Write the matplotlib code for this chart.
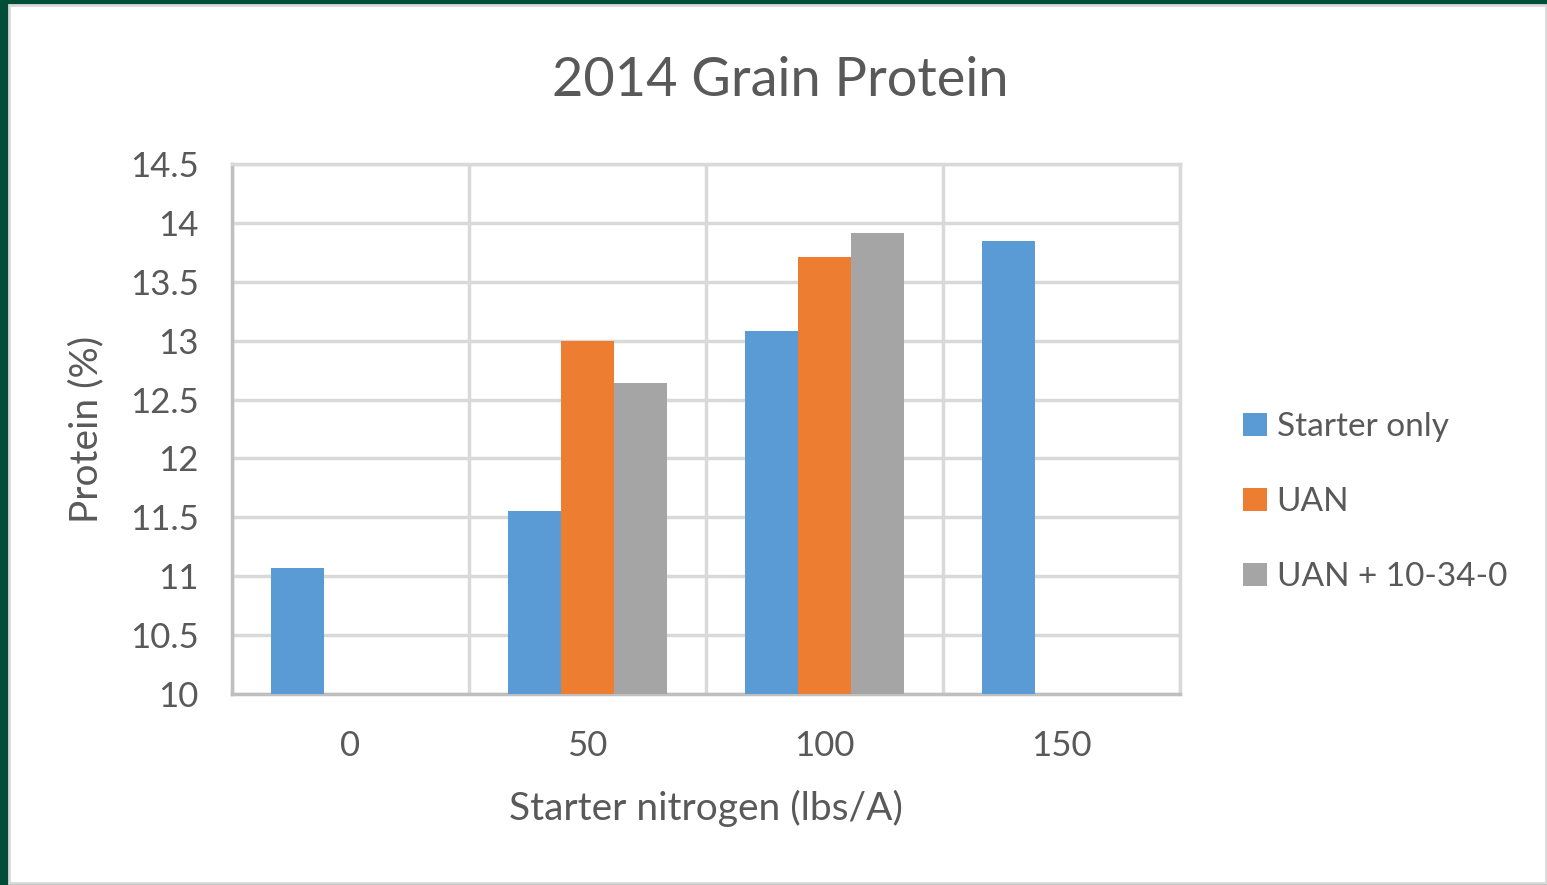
import numpy as np
import matplotlib
matplotlib.use("Agg")
import matplotlib.pyplot as plt
from matplotlib.patches import Rectangle

# data
categories = ["0", "50", "100", "150"]
series = ["Starter only", "UAN", "UAN + 10-34-0"]
starter_only = [11.07, 11.55, 13.08, 13.85]
uan = [np.nan, 13.0, 13.71, np.nan]
uan_1034 = [np.nan, 12.64, 13.91, np.nan]
colors = ["#5b9bd5", "#ed7d31", "#a5a5a5"]

plt.rcParams['font.family'] = ['Lato', 'DejaVu Sans']
text_col = "#595959"

fig = plt.figure(figsize=(15.47, 8.85), dpi=100)
fig.patch.set_facecolor("#024d38")
# white card inside the green frame
fig.patches.append(Rectangle((9 / 1547, 2 / 885), 1537 / 1547, 878 / 885,
                             transform=fig.transFigure, facecolor="white",
                             edgecolor="#d9d9d9", linewidth=2, zorder=-1))

ax = fig.add_axes([232 / 1547, 191 / 885, 948 / 1547, 530 / 885])
ax.set_facecolor("white")

x = np.arange(len(categories))
w = 0.224
for i, (vals, name) in enumerate(zip([starter_only, uan, uan_1034], series)):
    ax.bar(x + (i - 1) * w, np.array(vals) - 10, w, bottom=10,
           color=colors[i], label=name, zorder=3)

ax.set_xlim(-0.5, 3.5)
ax.set_ylim(10, 14.5)
ax.set_yticks(np.arange(10, 14.51, 0.5))
ax.set_yticklabels(["10", "10.5", "11", "11.5", "12", "12.5", "13", "13.5", "14", "14.5"])
ax.set_xticks(x)
ax.set_xticklabels(categories)
ax.set_xticks(np.arange(-0.5, 3.6, 1), minor=True)
ax.grid(True, which="major", axis="y", color="#d9d9d9", linewidth=2.5, zorder=0)
ax.grid(True, which="minor", axis="x", color="#d9d9d9", linewidth=2.5, zorder=0)
ax.tick_params(which="both", length=0)
ax.tick_params(axis="y", labelsize=25, labelcolor=text_col, pad=24)
ax.tick_params(axis="x", labelsize=25, labelcolor=text_col, pad=26)
for s in ax.spines.values():
    s.set_color("#d9d9d9")
    s.set_linewidth(2.5)
ax.spines["left"].set_color("#bfbfbf")
ax.spines["bottom"].set_color("#bfbfbf")

ax.set_xlabel("Starter nitrogen (lbs/A)", fontsize=28, color=text_col, labelpad=20)
ax.set_ylabel("Protein (%)", fontsize=28, color=text_col, labelpad=18)
fig.text(780 / 1547, 1 - 80 / 885, "2014 Grain Protein", fontsize=39,
         color=text_col, ha="center", va="center")

leg = ax.legend(loc="center left", bbox_to_anchor=(1.035, 0.362), frameon=False,
                fontsize=24, labelcolor=text_col, handlelength=0.7,
                handleheight=0.7, handletextpad=0.3, labelspacing=1.35)

fig.savefig("out.png", dpi=100, facecolor=fig.get_facecolor())
